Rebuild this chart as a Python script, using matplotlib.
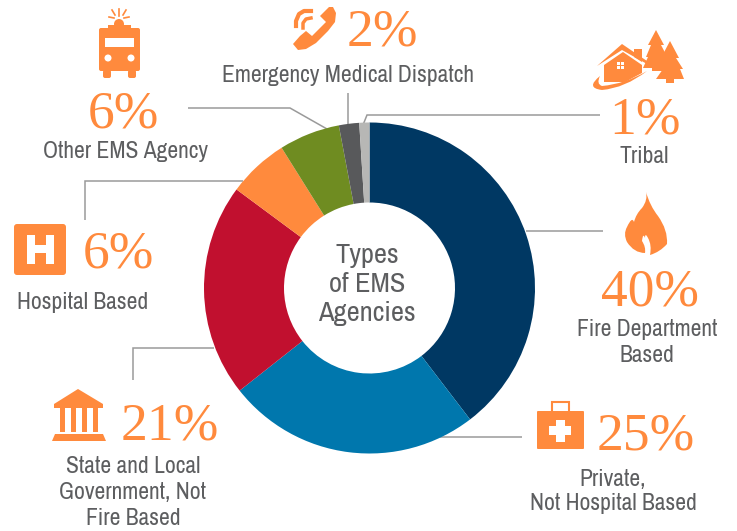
import matplotlib
matplotlib.use('Agg')
import matplotlib.pyplot as plt
from matplotlib.patches import Polygon, Circle, Rectangle, FancyBboxPatch, PathPatch
from matplotlib.path import Path
import logging

logging.getLogger('matplotlib.font_manager').setLevel(logging.ERROR)

# order goes clockwise from 12 o'clock
categories = ['Fire Department Based', 'Private, Not Hospital Based', 'State and Local Government, Not Fire Based',
              'Hospital Based', 'Other EMS Agency', 'Emergency Medical Dispatch', 'Tribal']
values = [40, 25, 21, 6, 6, 2, 1]
colors = ['#003863', '#0077ad', '#c1102f', '#ff8a3d', '#6f8c21', '#58595b', '#b7b7b5']

W, H = 737, 531
ORANGE = '#ff8a3d'
TEXT = '#5d5e60'
LINE = '#9a9a9a'
PCT_FONT = ['Liberation Serif', 'DejaVu Serif']
LBL_FONT = ['Archivo Narrow', 'Liberation Sans', 'DejaVu Sans']

fig = plt.figure(figsize=(W / 100, H / 100), dpi=100)

# background layer in pixel coords, for leaders, text and icons
ax = fig.add_axes([0, 0, 1, 1])
ax.set_xlim(0, W)
ax.set_ylim(H, 0)
ax.axis('off')

# donut
cx, cy, r = 369.5, 288, 165.5
pie_ax = fig.add_axes([(cx - r) / W, (H - cy - r) / H, 2 * r / W, 2 * r / H])
pie_ax.pie(values, colors=colors, startangle=90, counterclock=False, radius=1,
           wedgeprops=dict(width=80 / 165.5, linewidth=0))
pie_ax.set_xlim(-1, 1)
pie_ax.set_ylim(-1, 1)
pie_ax.patch.set_alpha(0)


def leader(xs, ys):
    ax.plot(xs, ys, color=LINE, lw=1.1, solid_capstyle='butt', solid_joinstyle='miter', zorder=1)


leader([188, 290, 327], [108, 108, 129])
leader([348, 348], [93, 125])
leader([363, 367, 600], [125, 115, 115])
leader([526, 603], [231, 231])
leader([440, 522], [437, 437])
leader([133, 133, 214], [380, 348, 348])
leader([85, 85, 243], [220, 181, 181])


def pct(x, y, s):
    ax.text(x, y, s, color=ORANGE, fontsize=38.5, family=PCT_FONT, ha='center', va='baseline')


def label(x, y, s):
    ax.text(x, y, s, color=TEXT, fontsize=17, family=LBL_FONT, ha='center', va='baseline')


pct(123, 128, '6%')
pct(382, 46, '2%')
pct(645, 134, '1%')
pct(650, 305, '40%')
pct(646, 449, '25%')
pct(170, 439, '21%')
pct(118, 268, '6%')

label(126, 158, 'Other EMS Agency')
label(348, 82, 'Emergency Medical Dispatch')
label(644, 163, 'Tribal')
label(647, 336, 'Fire Department')
label(647, 362, 'Based')
label(613, 486, 'Private,')
label(613, 510, 'Not Hospital Based')
label(133, 473, 'State and Local')
label(133, 499, 'Government, Not')
label(133, 525, 'Fire Based')
label(83, 309, 'Hospital Based')

for y, s in zip([263, 292, 321], ['Types', 'of EMS', 'Agencies']):
    ax.text(367, y, s, color=TEXT, fontsize=20.5, family=LBL_FONT, ha='center', va='baseline')


def poly(pts, color=ORANGE):
    ax.add_patch(Polygon(pts, closed=True, fc=color, ec='none'))


def rect(x, y, w, h, color=ORANGE):
    ax.add_patch(Rectangle((x, y), w, h, fc=color, ec='none'))


def rrect(x, y, w, h, rad, color=ORANGE):
    ax.add_patch(FancyBboxPatch((x + rad, y + rad), w - 2 * rad, h - 2 * rad,
                                boxstyle=f'round,pad={rad}', fc=color, ec='none'))


def curve(verts, color=ORANGE):
    codes = [Path.MOVETO] + [Path.CURVE3] * (len(verts) - 1)
    ax.add_patch(PathPatch(Path(verts, codes), fc=color, ec='none'))


# fire truck
rrect(99, 28, 41, 43, 2)
rect(108, 25, 23, 4)
ax.add_patch(Circle((119, 24), 5, fc=ORANGE, ec='none'))
rect(105, 38, 29, 9, 'white')
ax.add_patch(Circle((108, 58), 3.5, fc='white', ec='none'))
ax.add_patch(Circle((131, 58), 3.5, fc='white', ec='none'))
rrect(103, 70, 8, 8, 2)
rrect(128, 70, 8, 8, 2)
for x0, y0, x1, y1 in [(119, 9, 119, 16), (112, 10, 115, 15), (126, 10, 123, 15), (109, 17, 114, 18), (129, 17, 124, 18)]:
    ax.plot([x0, x1], [y0, y1], color=ORANGE, lw=1.2)

# phone
poly([(293, 44), (300, 36), (306, 31), (312, 36), (326, 22), (320, 16), (329, 7), (333, 7), (336, 13),
      (335, 22), (328, 31), (316, 43), (306, 49), (298, 50)])
ax.plot([296, 296, 299, 304, 311], [26, 21, 14, 11, 11], color=ORANGE, lw=3)
ax.plot([303, 303, 306, 311], [28, 23, 19, 18], color=ORANGE, lw=2.5)

# house and trees
poly([(597, 66), (622, 44), (647, 61), (647, 64), (622, 50), (597, 66)])
poly([(604, 65), (623, 52), (642, 65), (642, 73), (625, 82), (604, 82)])
poly([(634, 57), (634, 49), (642, 49), (642, 62)])
rect(617, 62, 3, 3, 'white')
rect(621, 62, 3, 3, 'white')
rect(617, 66, 3, 3, 'white')
rect(621, 66, 3, 3, 'white')
curve([(600, 76), (585, 88), (602, 90), (625, 88), (647, 71), (625, 84), (602, 86), (596, 84), (600, 76)])
poly([(656, 30), (664, 45), (661, 45), (670, 62), (665, 62), (665, 71), (652, 71), (652, 68), (643, 68), (648, 57), (646, 57), (651, 45), (648, 45)])
poly([(670, 41), (679, 58), (676, 58), (683, 69), (680, 69), (684, 79), (674, 79), (674, 83), (666, 83), (666, 79), (656, 79), (663, 69), (660, 69), (664, 58), (661, 58)])

# flame
curve([(646, 192), (650, 206), (658, 216), (668, 230), (667, 244), (660, 252), (650, 255), (652, 245), (648, 238),
       (645, 232), (645, 238), (643, 232), (642, 241), (646, 247), (645, 253), (634, 253), (627, 242), (623, 234),
       (627, 227), (632, 216), (634, 222), (636, 214), (642, 208), (648, 200), (646, 192)])

# medical case
rrect(537, 411, 47, 38, 1)
ax.add_patch(Rectangle((552, 402), 17, 11, fc='none', ec=ORANGE, lw=1.5))
rect(556, 420, 9, 22, 'white')
rect(549, 426, 22, 9, 'white')

# H block
rrect(14, 224, 52, 51, 3)
rect(27, 235, 8, 29, 'white')
rect(46, 235, 8, 29, 'white')
rect(27, 245, 27, 8, 'white')

# government building
poly([(54, 404), (78, 389), (103, 404), (103, 405), (54, 405)])
rect(54, 405, 49, 3)
for x in [60, 71, 82, 93]:
    rect(x, 407, 5.5, 25)
rect(56, 434, 46, 3)
poly([(52, 441), (55, 434), (103, 434), (106, 441)])

fig.savefig('out.png', dpi=100)
